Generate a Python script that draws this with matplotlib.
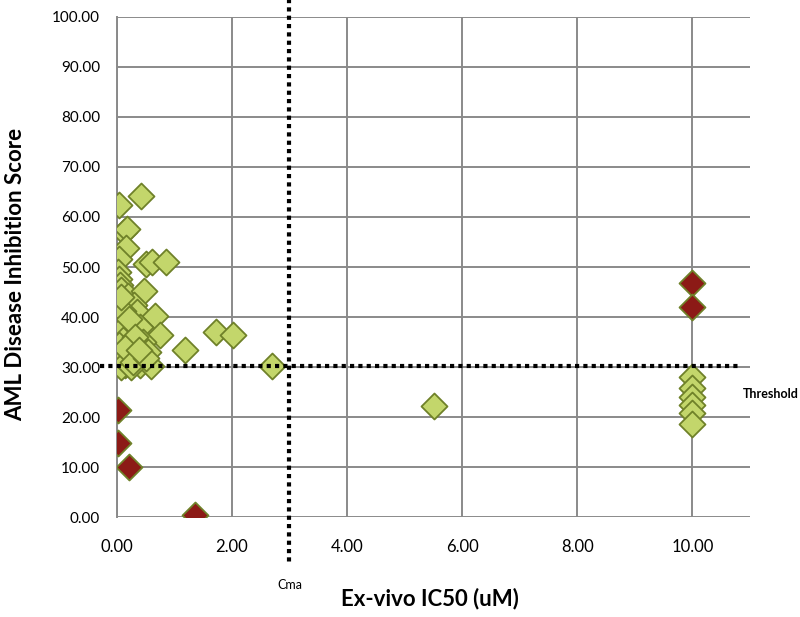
import matplotlib
matplotlib.use("Agg")
import matplotlib.pyplot as plt
from matplotlib.lines import Line2D

# Data
green_x = [0.03, 0.42, 0.12, 0.17, 0.16, 0.03, 0.50, 0.62, 0.85, 0.02, 0.03, 0.05,
           0.08, 0.20, 0.48, 0.03, 0.12, 0.30, 0.35, 0.03, 0.66, 0.05, 0.18, 0.40,
           0.03, 0.25, 0.75, 0.10, 0.45, 0.03, 0.30, 0.55, 1.18, 0.05, 0.20, 0.35,
           0.03, 0.15, 0.40, 0.60, 0.08, 0.25, 0.10, 0.22, 0.32, 0.14, 0.28, 0.50,
           0.07, 0.38, 1.72, 2.02, 2.70, 5.51,
           10.0, 10.0, 10.0, 10.0, 10.0, 10.0]
green_y = [62.4, 64.1, 57.0, 57.6, 53.8, 51.6, 50.6, 51.0, 51.0, 49.0, 47.6, 46.5,
           45.5, 44.2, 45.2, 43.0, 42.0, 42.5, 41.0, 40.6, 40.2, 39.0, 38.5, 38.0,
           37.0, 36.5, 36.4, 35.5, 35.0, 34.5, 34.0, 33.0, 33.4, 32.5, 32.0, 31.5,
           31.0, 30.5, 30.5, 30.3, 30.0, 30.0, 41.2, 39.6, 36.0, 33.8, 31.0, 31.8,
           44.0, 33.5, 37.0, 36.4, 30.2, 22.2,
           28.1, 25.8, 24.0, 22.4, 20.8, 18.7]
red_x = [0.02, 0.02, 0.22, 1.35, 10.0, 10.0]
red_y = [21.4, 14.8, 10.0, 0.4, 46.8, 42.0]

x_ticks = [0, 2, 4, 6, 8, 10]
y_ticks = [0, 10, 20, 30, 40, 50, 60, 70, 80, 90, 100]
cmax = 3.0
threshold = 30.2

plt.rcParams['font.family'] = ['Lato', 'DejaVu Sans']

fig = plt.figure(figsize=(8, 6.17), dpi=100)
ax = fig.add_axes([0.146, 0.162, 0.7915, 0.8105])
ax.set_xlim(0, 11)
ax.set_ylim(0, 100)

ax.set_xticks(x_ticks)
ax.set_yticks(y_ticks)
ax.set_xticklabels([f"{v:.2f}" for v in x_ticks], fontsize=12)
ax.set_yticklabels([f"{v:.2f}" for v in y_ticks], fontsize=11)
ax.tick_params(length=0, pad=12)
ax.tick_params(axis='x', pad=16)

ax.grid(True, color='#8a8a8a', linewidth=1.4)
ax.set_axisbelow(True)
for s in ['top', 'right', 'bottom']:
    ax.spines[s].set_visible(False)
ax.spines['left'].set_color('#8a8a8a')
ax.spines['left'].set_linewidth(1.4)

ax.scatter(green_x, green_y, marker='D', s=175, facecolor='#c3d66b',
           edgecolor='#6f8129', linewidth=1.3, zorder=3)
ax.scatter(red_x, red_y, marker='D', s=175, facecolor='#8c1a16',
           edgecolor='#6f8129', linewidth=1.3, zorder=3)

ax.add_line(Line2D([cmax, cmax], [103.5, -9.6], color='black', linewidth=3,
                   linestyle=(0, (1, 1)), clip_on=False, zorder=4))
ax.add_line(Line2D([-0.3, 10.85], [threshold, threshold], color='black', linewidth=3,
                   linestyle=(0, (1, 1)), clip_on=False, zorder=4))

ax.text(cmax, -12.3, "Cma", fontsize=9, ha='center', va='top')
ax.text(10.87, 24.6, "Threshold", fontsize=9, fontweight='bold', ha='left', va='center')

ax.set_xlabel("Ex-vivo IC50 (uM)", fontsize=16, fontweight='bold')
ax.xaxis.set_label_coords(0.495, -0.142)
ax.set_ylabel("AML Disease Inhibition Score", fontsize=16, fontweight='bold')
ax.yaxis.set_label_coords(-0.143, 0.485)

fig.savefig("out.png", dpi=100, facecolor='white')
